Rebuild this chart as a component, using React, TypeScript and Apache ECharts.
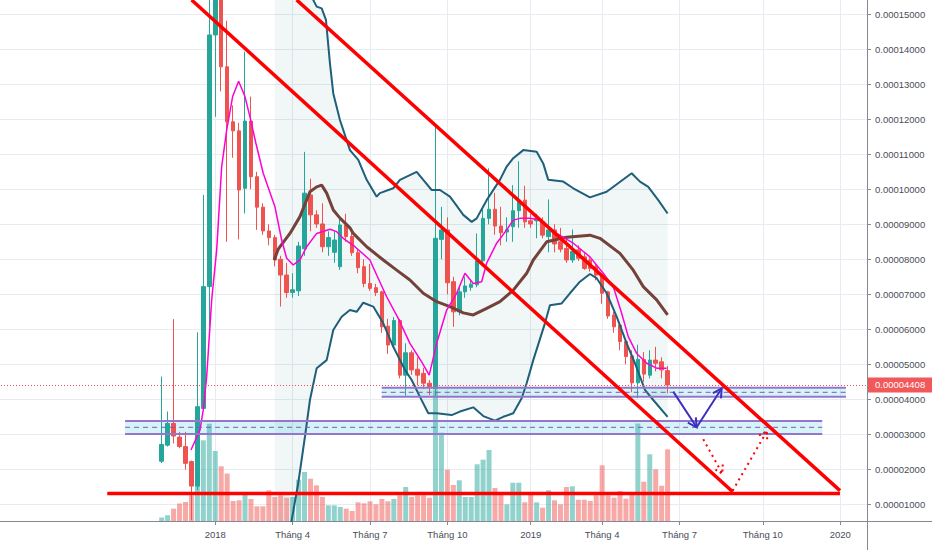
import React, { useEffect, useRef } from "react";
import * as echarts from "echarts";

// Prices are in units of 0.00001; weeks are counted from the week of 2018-01-01 (week 0).
const PRICE_UNIT = 1e-5;
const FIRST_WEEK = -36;
const LAST_WEEK = 109;
const FIRST_CANDLE_WEEK = -9;

// [open, close, low, high]
const candles: number[][] = [
  [2.23, 2.71, 2.18, 4.65], [2.69, 3.31, 2.65, 3.65], [3.31, 2.95, 2.74, 6.29], [2.92, 2.65, 2.6, 3.07],
  [2.65, 2.17, 1.99, 3.07], [2.22, 1.52, 0.55, 2.25], [1.52, 3.79, 1.41, 5.91], [3.74, 7.22, 3.7, 9.84],
  [7.22, 14.41, 6.07, 16.5], [14.41, 16.2, 12.07, 16.8], [16.2, 13.5, 12.8, 16.6], [13.5, 11.93, 8.5, 14.82],
  [11.93, 11.67, 10.9, 12.4], [11.67, 9.98, 8.57, 11.9], [10.03, 11.95, 9.31, 13.93], [11.95, 10.36, 10.0, 12.65],
  [10.36, 9.49, 8.84, 10.5], [9.49, 8.81, 8.7, 9.6], [8.81, 8.62, 8.4, 9.0], [8.62, 7.98, 7.8, 8.7],
  [8.0, 7.55, 6.65, 8.1], [7.55, 7.05, 6.9, 7.9], [7.05, 7.13, 6.9, 7.6], [7.1, 8.38, 6.95, 8.5],
  [8.3, 9.89, 8.1, 11.07], [9.84, 9.27, 8.8, 10.3], [9.27, 9.01, 8.9, 9.4], [9.01, 8.36, 8.2, 9.6],
  [8.36, 8.62, 8.1, 8.8], [8.2, 8.55, 7.9, 8.8], [7.79, 8.98, 7.7, 9.2], [8.98, 8.65, 8.5, 9.3],
  [8.65, 8.19, 8.1, 8.8], [8.19, 7.76, 7.6, 8.3], [7.79, 7.31, 7.2, 8.0], [7.31, 7.17, 7.1, 7.87],
  [7.19, 7.05, 6.95, 7.3], [7.07, 6.07, 5.9, 7.1], [6.09, 5.55, 5.3, 6.3], [5.55, 6.25, 5.5, 6.35],
  [6.25, 4.69, 4.6, 6.3], [4.69, 5.33, 4.1, 5.6], [5.33, 4.84, 4.7, 5.4], [4.86, 4.69, 4.4, 5.2],
  [4.74, 4.46, 4.3, 4.9], [4.46, 4.36, 4.12, 4.55], [4.3, 8.6, 4.1, 11.84], [8.57, 8.84, 8.0, 9.5],
  [8.84, 7.33, 7.0, 9.2], [7.36, 6.5, 6.07, 7.5], [6.5, 7.07, 6.4, 7.2], [7.07, 7.24, 6.9, 7.5],
  [7.2, 7.29, 7.1, 7.4], [7.27, 7.96, 7.2, 8.74], [7.96, 9.17, 7.9, 9.5], [9.17, 9.43, 9.0, 10.6],
  [9.43, 8.95, 8.7, 9.9], [8.95, 8.76, 8.4, 9.5], [8.78, 8.85, 8.5, 9.2], [8.93, 9.39, 8.5, 10.12],
  [9.39, 9.69, 8.9, 10.8], [9.69, 9.07, 8.9, 10.1], [9.1, 9.01, 8.9, 9.3], [9.1, 9.17, 8.6, 9.3],
  [9.07, 8.69, 8.6, 9.2], [8.65, 8.84, 8.2, 9.71], [8.84, 8.44, 8.2, 9.0], [8.5, 8.29, 8.2, 8.9],
  [8.31, 7.98, 7.9, 8.6], [7.98, 8.22, 7.9, 8.85], [8.27, 8.03, 7.95, 8.4], [8.07, 7.74, 7.7, 8.2],
  [7.98, 7.74, 7.65, 8.05], [7.79, 7.55, 7.4, 7.9], [7.55, 7.03, 6.73, 7.6], [7.07, 6.38, 6.3, 7.1],
  [6.41, 6.07, 5.9, 6.5], [6.12, 5.65, 5.4, 6.2], [5.65, 5.22, 5.0, 5.7], [5.24, 4.47, 4.2, 5.4],
  [4.47, 5.14, 4.03, 5.56], [5.14, 4.72, 4.5, 5.35], [4.69, 5.12, 4.6, 5.4], [5.12, 5.03, 4.8, 5.5],
  [5.07, 4.84, 4.6, 5.2], [4.82, 4.408, 4.17, 4.95],
];

// relative weekly volume
const volumes: number[] = [
  3.5, 5.7, 12.3, 17.5, 19, 25.7, 60, 80.7, 97.3, 70, 54.7, 47.5, 20, 20.7, 28, 22, 14.7, 14.7, 30.7, 24,
  25.7, 23.3, 24, 41.3, 49, 42.3, 35.7, 24, 15.7, 15.7, 14, 12.3, 10, 18.7, 17.7, 19.7, 16.7, 22, 19.7, 22,
  25.7, 34, 24, 25.7, 25.7, 23.3, 130.7, 88.3, 51.3, 36, 40.7, 24, 24, 56.7, 61.3, 71, 33, 26.3, 16.7, 38.3,
  38.3, 18.7, 27.3, 18.7, 13.3, 30.7, 20.7, 16.7, 34, 34.7, 21.3, 21.3, 20, 25.7, 55.7, 25.7, 23.3, 30, 22.3, 28,
  97.5, 39.3, 66.7, 51.7, 35.3, 71.7,
];

const xTickWeeks = [0, 13, 26, 39, 53, 65, 78, 92, 105];
const xTickLabels = ["2018", "Tháng 4", "Tháng 7", "Tháng 10", "2019", "Tháng 4", "Tháng 7", "Tháng 10", "2020"];
const yTicks = [1, 2, 3, 4, 5, 6, 7, 8, 9, 10, 11, 12, 13, 14, 15];
const LAST_PRICE = 4.408;

// [week, price]
const pinkMA = [
  [-4.08, 2.55], [-2.57, 3.12], [-2.02, 3.69], [-1.44, 4.65], [-0.6, 6.84], [0.24, 8.27], [1.08, 10.65],
  [1.92, 11.69], [2.92, 12.65], [3.93, 13.09], [4.99, 12.65], [5.83, 12.07], [6.84, 11.31], [8.06, 10.46],
  [10.03, 9.5], [11.16, 8.55], [12.0, 8.03], [13.1, 7.84], [14.23, 7.98], [15.36, 8.36], [17.04, 8.74],
  [19.27, 8.86], [20.4, 8.79], [21.5, 8.6], [23.47, 8.36], [25.99, 7.98], [27.12, 7.55], [28.8, 6.93],
  [30.75, 6.31], [32.71, 5.6], [34.68, 5.07], [35.95, 4.69], [37.2, 5.6], [38.88, 6.55], [40.56, 7.03],
  [41.95, 7.6], [43.35, 7.31], [44.76, 7.36], [45.6, 7.89], [47.28, 8.46], [48.96, 8.84], [50.07, 9.12],
  [51.19, 9.17], [52.87, 9.17], [54.55, 9.12], [57.36, 8.74], [60.15, 8.46], [62.95, 8.07], [65.19, 7.6],
  [66.87, 7.22], [68.28, 6.46], [69.39, 5.79], [70.8, 5.31], [72.48, 5.03], [74.16, 4.89], [75.84, 4.89],
];
const brownMA = [
  [9.9, 7.98], [10.58, 8.29], [12.55, 8.74], [14.23, 9.22], [15.91, 9.93], [17.04, 10.07], [17.88, 10.12],
  [18.72, 9.89], [19.83, 9.41], [21.0, 9.17], [22.63, 8.9], [23.19, 8.74], [25.44, 8.36], [28.23, 7.98],
  [30.48, 7.69], [32.71, 7.41], [34.95, 7.03], [37.2, 6.79], [39.43, 6.65], [41.67, 6.47], [43.35, 6.41],
  [45.6, 6.6], [47.83, 6.79], [50.07, 7.12], [52.32, 7.6], [53.43, 7.98], [55.68, 8.5], [59.04, 8.63],
  [62.95, 8.69], [64.63, 8.6], [67.99, 8.17], [70.23, 7.69], [71.91, 7.22], [74.16, 6.84], [76.0, 6.41],
];
const bbUpper = [
  [10, 20], [13, 19], [16.47, 15.41], [17.04, 15.22], [17.88, 15.17], [18.6, 14.84], [19.27, 13.6],
  [19.83, 12.74], [20.95, 11.98], [22.63, 11.12], [24.03, 10.84], [25.44, 10.27], [27.12, 9.79],
  [27.65, 9.89], [29.9, 10.03], [31.03, 10.27], [33.84, 10.5], [34.95, 10.27], [36.36, 9.98], [37.76, 9.98],
  [39.43, 9.79], [40.27, 9.6], [41.67, 9.27], [43.08, 9.07], [43.92, 9.17], [45.6, 9.69], [47.83, 10.27],
  [48.96, 10.65], [50.07, 10.89], [51.75, 11.12], [54.0, 11.07], [55.1, 10.74], [55.95, 10.27],
  [58.47, 10.22], [60.15, 10.03], [62.95, 9.77], [65.76, 9.93], [69.96, 10.46], [71.36, 10.22],
  [72.75, 10.07], [74.43, 9.69], [76.0, 9.31],
];
const bbLower = [
  [10, -4], [12, -0.5], [12.84, 0.55], [13.94, 1.6], [15.07, 2.93], [15.91, 3.98], [17.04, 4.89],
  [18.72, 5.12], [19.83, 5.98], [21.24, 6.36], [22.63, 6.55], [23.76, 6.5], [24.87, 6.76], [26.55, 6.65],
  [28.23, 6.17], [29.91, 5.5], [31.87, 4.84], [33.0, 4.55], [34.39, 4.07], [35.79, 3.6], [37.2, 3.6],
  [39.72, 3.55], [41.11, 3.65], [43.35, 3.77], [45.03, 3.52], [46.99, 3.39], [48.39, 3.5], [50.07, 3.6],
  [51.48, 4.03], [52.32, 4.46], [53.43, 5.12], [55.39, 6.17], [56.23, 6.69], [58.2, 6.74], [59.59, 7.03],
  [61.27, 7.36], [62.95, 7.58], [64.08, 7.46], [65.76, 7.03], [67.44, 6.36], [69.12, 5.6], [70.51, 5.03],
  [72.19, 4.27], [73.59, 3.98], [76.0, 3.5],
];

// drawings
const trendUpper = [[13.68, 15.41], [104.96, 1.39]];
const trendLower = [[-3.97, 15.41], [86.93, 1.36]];
const supportLine = [[-18.14, 1.31], [104.96, 1.31]];
const zoneHigh = { from: 27.96, to: 105.96, top: 4.33, mid: 4.2, bottom: 4.07 };
const zoneLow = { from: -15.15, to: 101.98, top: 3.38, mid: 3.2, bottom: 3.01 };
const blueArrows = [[76.95, 4.22], [80.88, 3.2], [85.08, 4.31]];
const redDotted1 = [[81.99, 2.86], [85.2, 1.88]];
const redDotted2 = [[86.93, 1.39], [92.69, 3.09]];

const FONT = "'Liberation Sans', Arial, sans-serif";
const TEXT = "#4a4d57";
const AXIS = "#868993";
const GRIDC = "#e6ecf1";
const UP = "#26a69a";
const DOWN = "#ef5350";
const VOL_UP = "rgba(38,166,154,0.5)";
const VOL_DOWN = "rgba(239,83,80,0.5)";
const PURPLE = "#9575cd";
const BLUE = "#3f2fbf";
const RED = "#ff0000";
const GRID_LEFT = -2;
const GRID_RIGHT = 65;
const GRID_BOTTOM = 29;
const W = 932;
const H = 550;

function weekName(k: number) {
  return new Date(Date.UTC(2018, 0, 1 + 7 * k)).toISOString().slice(0, 10);
}

function lineSeries(data: number[][], color: string, width: number, extra: any = {}) {
  return {
    type: "line",
    xAxisIndex: 1,
    yAxisIndex: 0,
    data,
    symbol: "none",
    showSymbol: false,
    silent: true,
    clip: true,
    z: 4,
    lineStyle: { color, width, ...(extra.lineStyle || {}) },
    ...Object.fromEntries(Object.entries(extra).filter(([k]) => k !== "lineStyle")),
  };
}

function zoneSeries(z: any) {
  return [
    lineSeries([[z.from, z.top], [z.to, z.top]], PURPLE, 2, {
      z: 5,
      markArea: {
        silent: true,
        itemStyle: { color: "rgba(0,188,212,0.16)" },
        data: [[{ coord: [z.from, z.top] }, { coord: [z.to, z.bottom] }]],
      },
    }),
    lineSeries([[z.from, z.mid], [z.to, z.mid]], "#7e57c2", 1, { z: 5, lineStyle: { type: [5, 4] } }),
    lineSeries([[z.from, z.bottom], [z.to, z.bottom]], PURPLE, 2, { z: 5 }),
  ];
}

function buildOption() {
  const categories: string[] = [];
  for (let k = FIRST_WEEK; k <= LAST_WEEK; k++) categories.push(weekName(k));

  const candleData = candles.map((c, i) => [i + FIRST_CANDLE_WEEK - FIRST_WEEK, c[0], c[1], c[2], c[3]]);
  const volumeData = volumes.map((v, i) => ({
    value: [i + FIRST_CANDLE_WEEK, v],
    itemStyle: { color: candles[i][1] >= candles[i][0] ? VOL_UP : VOL_DOWN },
  }));

  const xLabel = (val: number) => {
    const i = xTickWeeks.indexOf(Math.round(val));
    return i >= 0 ? xTickLabels[i] : "";
  };

  return {
    animation: false,
    backgroundColor: "#ffffff",
    grid: [
      { left: GRID_LEFT, right: GRID_RIGHT, top: 0, bottom: GRID_BOTTOM, containLabel: false, outerBoundsMode: "none" },
      { left: GRID_LEFT, right: GRID_RIGHT, top: 321, bottom: GRID_BOTTOM, containLabel: false, outerBoundsMode: "none" },
    ],
    xAxis: [
      { type: "category", gridIndex: 0, data: categories, boundaryGap: true, show: false },
      {
        type: "value", gridIndex: 0, min: FIRST_WEEK - 0.5, max: LAST_WEEK + 0.5, position: "bottom",
        axisLine: { show: false, onZero: false },
        axisTick: { show: false, customValues: xTickWeeks },
        axisLabel: { show: false, customValues: xTickWeeks },
        splitLine: { show: true, lineStyle: { color: GRIDC, width: 1 } },
      },
      {
        type: "value", gridIndex: 1, min: FIRST_WEEK - 0.5, max: LAST_WEEK + 0.5, position: "bottom",
        axisLine: { show: true, onZero: false, lineStyle: { color: AXIS, width: 1 } },
        axisTick: { show: true, customValues: xTickWeeks, length: 4, lineStyle: { color: AXIS } },
        axisLabel: { customValues: xTickWeeks, formatter: xLabel, color: TEXT, fontSize: 9.5, fontFamily: FONT, margin: 8 },
        splitLine: { show: false },
      },
    ],
    yAxis: [
      {
        type: "value", gridIndex: 0, position: "right", min: 0.523, max: 15.409,
        axisLine: { show: true, onZero: false, lineStyle: { color: AXIS, width: 1 } },
        axisTick: { show: true, customValues: yTicks, length: 4, lineStyle: { color: AXIS } },
        axisLabel: {
          customValues: yTicks, margin: 8, color: TEXT, fontSize: 9.5, fontFamily: FONT,
          formatter: (v: number) => (v * PRICE_UNIT).toFixed(8),
        },
        splitLine: { show: true, lineStyle: { color: GRIDC, width: 1 } },
      },
      { type: "value", gridIndex: 1, min: 0, max: 200, show: false, splitLine: { show: false } },
    ],
    series: [
      {
        type: "custom",
        xAxisIndex: 1,
        yAxisIndex: 0,
        clip: true,
        silent: true,
        z: 1,
        data: [[0, 0]],
        renderItem: (_params: any, api: any) => {
          const pts = bbUpper.concat(bbLower.slice().reverse()).map((p) => api.coord(p));
          return { type: "polygon", shape: { points: pts }, style: { fill: "rgba(0,121,107,0.06)" } };
        },
      },
      {
        type: "bar",
        xAxisIndex: 2,
        yAxisIndex: 1,
        data: volumeData,
        barWidth: 5,
        silent: true,
        z: 2,
      },
      {
        type: "candlestick",
        xAxisIndex: 0,
        yAxisIndex: 0,
        dimensions: ["week", "open", "close", "lowest", "highest"],
        encode: { x: "week", y: ["open", "close", "lowest", "highest"] },
        data: candleData,
        barWidth: 4,
        clip: true,
        silent: true,
        z: 3,
        itemStyle: { color: UP, color0: DOWN, borderColor: UP, borderColor0: DOWN, borderWidth: 1 },
        markLine: {
          silent: true,
          symbol: ["none", "none"],
          animation: false,
          lineStyle: { color: DOWN, type: [1, 2], width: 1 },
          label: {
            show: true,
            position: "end",
            distance: 1,
            formatter: () => (LAST_PRICE * PRICE_UNIT).toFixed(8),
            backgroundColor: "#f0585a",
            color: "#ffffff",
            padding: [3, 8, 2, 7],
            fontSize: 9.5,
            fontFamily: FONT,
          },
          data: [{ yAxis: LAST_PRICE }],
        },
      },
      lineSeries(bbUpper, "#1f5f7a", 2),
      lineSeries(bbLower, "#1f5f7a", 2),
      lineSeries(brownMA, "#74423a", 3),
      lineSeries(pinkMA, "#ff00d4", 1.5),
      ...zoneSeries(zoneHigh),
      ...zoneSeries(zoneLow),
      lineSeries(trendUpper, RED, 3.5, { z: 6 }),
      lineSeries(trendLower, RED, 3.5, { z: 6 }),
      lineSeries(supportLine, RED, 3.5, { z: 6 }),
      lineSeries(blueArrows, BLUE, 2, { z: 7 }),
      lineSeries(redDotted1, RED, 2, { z: 7, lineStyle: { type: [2, 4] } }),
      lineSeries(redDotted2, RED, 2, { z: 7, lineStyle: { type: [2, 4] } }),
    ],
  };
}

export default function App() {
  const ref = useRef<HTMLDivElement>(null);
  useEffect(() => {
    const chart = echarts.init(ref.current as HTMLDivElement, null, { renderer: "svg" });
    chart.setOption(buildOption() as any);

    const toPx = (p: number[]) => chart.convertToPixel({ xAxisIndex: 1, yAxisIndex: 0 } as any, p) as number[];
    const head = (tail: number[], tip: number[], len: number, ang: number) => {
      const a = toPx(tail);
      const b = toPx(tip);
      const dx = b[0] - a[0];
      const dy = b[1] - a[1];
      const L = Math.hypot(dx, dy) || 1;
      const ux = dx / L;
      const uy = dy / L;
      const arm = (t: number) => [
        b[0] - len * (ux * Math.cos(t) - uy * Math.sin(t)),
        b[1] - len * (ux * Math.sin(t) + uy * Math.cos(t)),
      ];
      return [arm(ang), b, arm(-ang)];
    };
    const axisX = W - GRID_RIGHT;
    const axisY = H - GRID_BOTTOM;
    chart.setOption({
      graphic: [
        { type: "polyline", z: 100, shape: { points: head(blueArrows[0], blueArrows[1], 10, 0.5) }, style: { stroke: BLUE, lineWidth: 2, fill: null } },
        { type: "polyline", z: 100, shape: { points: head(blueArrows[1], blueArrows[2], 10, 0.5) }, style: { stroke: BLUE, lineWidth: 2, fill: null } },
        { type: "polyline", z: 100, shape: { points: head(redDotted1[0], redDotted1[1], 9, 0.55) }, style: { stroke: RED, lineWidth: 2, lineDash: [2, 3], fill: null } },
        { type: "polyline", z: 100, shape: { points: head(redDotted2[0], redDotted2[1], 9, 0.55) }, style: { stroke: RED, lineWidth: 2, lineDash: [2, 3], fill: null } },
        { type: "line", z: 100, shape: { x1: axisX + 0.5, y1: axisY, x2: axisX + 0.5, y2: H }, style: { stroke: AXIS, lineWidth: 1 } },
        { type: "line", z: 100, shape: { x1: axisX, y1: axisY + 0.5, x2: W, y2: axisY + 0.5 }, style: { stroke: AXIS, lineWidth: 1 } },
      ],
    } as any);
    return () => chart.dispose();
  }, []);
  return (
    <div
      ref={ref}
      style={{ position: "fixed", left: 0, top: 0, width: W, height: H, background: "#ffffff" }}
    />
  );
}
